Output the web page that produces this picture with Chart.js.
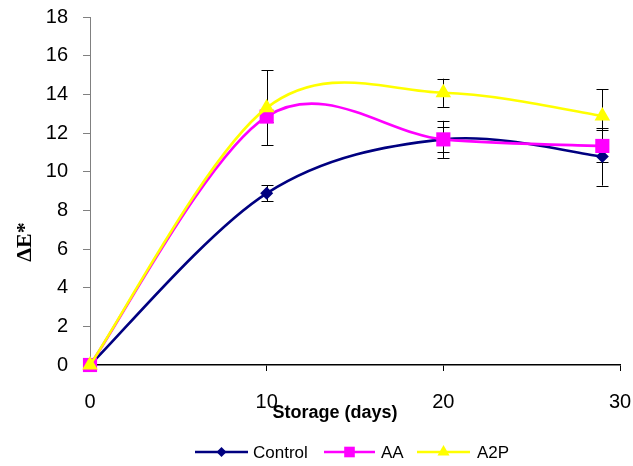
<!DOCTYPE html>
<html>
<head>
<meta charset="utf-8">
<script src="https://cdn.jsdelivr.net/npm/chart.js@4/dist/chart.umd.min.js"></script>
<style>
  html, body { margin: 0; padding: 0; background: #fff; }
  #wrap { width: 633px; height: 466px; position: relative; }
</style>
</head>
<body>
<div id="wrap"><canvas id="c" width="633" height="466"></canvas></div>
<script>
// ---- data ----
const days = [0, 10, 20, 29];
const seriesNames = ['Control', 'AA', 'A2P'];
const controlValues = [0, 8.88, 11.67, 10.78];
const controlErrors = [0, 0.42, 0.63, 1.5];
const aaValues = [0, 12.85, 11.67, 11.33];
const aaErrors = [0, 0.3, 0.96, 0.83];
const a2pValues = [0, 13.3, 14.08, 12.88];
const a2pErrors = [0, 1.94, 0.73, 1.38];
const xTicks = [0, 10, 20, 30];
const yTicks = [0, 2, 4, 6, 8, 10, 12, 14, 16, 18];
const xTitle = 'Storage (days)';
const yTitle = 'ΔE*';

const colors = ['#000080', '#FF00FF', '#FFFF00'];
const styles = ['rectRot', 'rect', 'triangle'];
const radii = [6.5, 10, 9];
const legendRadii = [5, 7.5, 7];
const values = [controlValues, aaValues, a2pValues];
const errors = [controlErrors, aaErrors, a2pErrors];
const SANS = '"Liberation Sans", Arial, sans-serif';

const datasets = seriesNames.map((name, i) => ({
  label: name,
  data: days.map((d, j) => ({ x: d, y: values[i][j] })),
  errors: errors[i],
  borderColor: colors[i],
  backgroundColor: colors[i],
  pointBackgroundColor: colors[i],
  pointBorderColor: colors[i],
  pointBorderWidth: 0,
  pointStyle: styles[i],
  pointRadius: radii[i],
  pointHoverRadius: radii[i],
  borderWidth: 2.6,
  tension: 0.5,
  fill: false,
  clip: false,
  order: 3 - i
}));

// Excel-like smoothing (Catmull-Rom, 1/6 of neighbour span) applied to the
// control points Chart.js uses for its own bezier line element.
const excelSmooth = {
  id: 'excelSmooth',
  beforeDatasetDraw(chart, args) {
    const meta = args.meta;
    if (!meta.dataset) return;
    meta.dataset.updateControlPoints(chart.chartArea, 'x');
    const pts = meta.data;
    const n = pts.length;
    for (let i = 0; i < n; i++) {
      const p = pts[i];
      const prev = pts[Math.max(i - 1, 0)];
      const next = pts[Math.min(i + 1, n - 1)];
      const dx = (next.x - prev.x) / 6;
      const dy = (next.y - prev.y) / 6;
      p.cp1x = p.x - dx; p.cp1y = p.y - dy;
      p.cp2x = p.x + dx; p.cp2y = p.y + dy;
    }
    meta.dataset._path = undefined;
  }
};

const errorBars = {
  id: 'errorBars',
  beforeDatasetsDraw(chart) {
    const ctx = chart.ctx;
    const xs = chart.scales.x, ys = chart.scales.y;
    ctx.save();
    ctx.strokeStyle = '#000';
    ctx.lineWidth = 1;
    chart.data.datasets.forEach(ds => {
      ds.data.forEach((p, j) => {
        const e = ds.errors[j];
        if (!e) return;
        const x = Math.round(xs.getPixelForValue(p.x)) + 0.5;
        const y1 = ys.getPixelForValue(p.y + e);
        const y2 = ys.getPixelForValue(p.y - e);
        ctx.beginPath();
        ctx.moveTo(x, y1); ctx.lineTo(x, y2);
        ctx.moveTo(x - 6, Math.round(y1) + 0.5); ctx.lineTo(x + 6, Math.round(y1) + 0.5);
        ctx.moveTo(x - 6, Math.round(y2) + 0.5); ctx.lineTo(x + 6, Math.round(y2) + 0.5);
        ctx.stroke();
      });
    });
    ctx.restore();
  }
};

const extras = {
  id: 'extras',
  afterDraw(chart) {
    const ctx = chart.ctx;
    ctx.save();
    // x title
    ctx.fillStyle = '#000';
    ctx.font = 'bold 18px ' + SANS;
    ctx.textAlign = 'center';
    ctx.textBaseline = 'alphabetic';
    ctx.fillText(xTitle, 335, 418);
    // y title
    ctx.save();
    ctx.translate(31, 242);
    ctx.rotate(-Math.PI / 2);
    ctx.font = 'bold 22px "Liberation Serif", "Times New Roman", serif';
    ctx.textAlign = 'center';
    ctx.textBaseline = 'alphabetic';
    ctx.fillText(yTitle, 0, 0);
    ctx.restore();
    // legend
    const ly = 452;
    const items = [
      { x1: 195, x2: 248, tx: 253 },
      { x1: 324, x2: 375, tx: 381 },
      { x1: 417, x2: 470, tx: 477 }
    ];
    ctx.font = '17px ' + SANS;
    ctx.textAlign = 'left';
    ctx.textBaseline = 'middle';
    chart.data.datasets.forEach((ds, i) => {
      const it = items[i];
      ctx.strokeStyle = colors[i];
      ctx.lineWidth = 2.6;
      ctx.beginPath();
      ctx.moveTo(it.x1, ly); ctx.lineTo(it.x2, ly);
      ctx.stroke();
      ctx.fillStyle = colors[i];
      Chart.helpers.drawPoint(ctx, {
        pointStyle: styles[i], radius: legendRadii[i], rotation: 0, borderWidth: 0
      }, (it.x1 + it.x2) / 2, ly);
      ctx.fillStyle = '#000';
      ctx.fillText(ds.label, it.tx, ly + 1);
    });
    ctx.restore();
  }
};

new Chart(document.getElementById('c'), {
  type: 'line',
  data: { datasets },
  options: {
    responsive: false,
    animation: false,
    devicePixelRatio: 1,
    layout: { padding: { left: 0, right: 13, top: 17, bottom: 0 } },
    plugins: {
      legend: { display: false },
      tooltip: { enabled: false },
      title: { display: false }
    },
    scales: {
      x: {
        type: 'linear',
        min: 0, max: 30,
        afterFit(scale) {
          scale.height = 101;
          scale.paddingLeft = 0; scale.paddingRight = 0;
          scale.paddingTop = 0; scale.paddingBottom = 0;
        },
        afterBuildTicks(scale) { scale.ticks = xTicks.map(v => ({ value: v })); },
        ticks: {
          color: '#000',
          font: { family: SANS, size: 20 },
          padding: 19,
          maxRotation: 0,
          autoSkip: false
        },
        grid: {
          drawOnChartArea: false,
          drawTicks: true,
          tickLength: 6,
          color: ctx => (ctx.tick && ctx.tick.value === 0) ? 'rgba(0,0,0,0)' : '#000',
          lineWidth: 1
        },
        border: { color: '#000', width: 1.5 }
      },
      y: {
        min: 0, max: 18,
        afterFit(scale) {
          scale.width = 90;
          scale.paddingTop = 0; scale.paddingBottom = 0;
          scale.paddingLeft = 0; scale.paddingRight = 0;
        },
        afterBuildTicks(scale) { scale.ticks = yTicks.map(v => ({ value: v })); },
        ticks: {
          color: '#000',
          font: { family: SANS, size: 20 },
          padding: 15,
          autoSkip: false
        },
        grid: {
          drawOnChartArea: false,
          drawTicks: true,
          tickLength: 7,
          color: '#808080',
          lineWidth: 1
        },
        border: { color: '#808080', width: 1 }
      }
    }
  },
  plugins: [excelSmooth, errorBars, extras]
});
</script>
</body>
</html>
